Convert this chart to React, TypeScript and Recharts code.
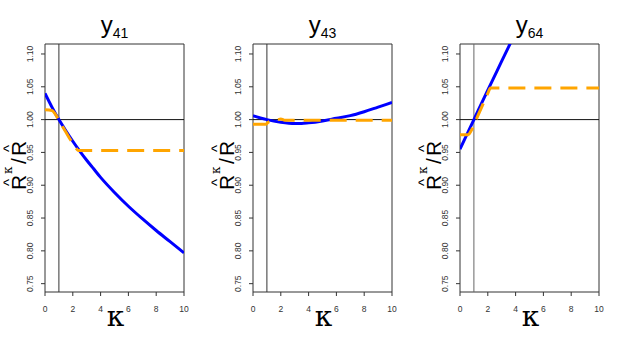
import React from 'react';
import { LineChart, Line, XAxis, YAxis, ReferenceLine, ReferenceArea } from 'recharts';

const KAPPA_TICKS = [0, 2, 4, 6, 8, 10];
const RATIO_TICKS = [0.75, 0.8, 0.85, 0.9, 0.95, 1.0, 1.05, 1.1];
const Y_DOMAIN: [number, number] = [0.7373, 1.1152];
const X_DOMAIN: [number, number] = [0, 10];
const TITLES = ['41', '43', '64'];

// panel y41
const P1_BLUE_K = [0, 0.5, 1, 1.5, 2, 2.5, 3, 3.5, 4, 5, 6, 7, 8, 9, 10];
const P1_BLUE_V = [1.04, 1.019, 1.0, 0.983, 0.967, 0.952, 0.938, 0.925, 0.912, 0.889, 0.868, 0.849, 0.831, 0.814, 0.797];
const P1_ORANGE_K = [0, 0.5, 0.75, 1, 1.25, 1.5, 1.75, 2, 2.25, 2.4, 10];
const P1_ORANGE_V = [1.015, 1.014, 1.008, 0.999, 0.99, 0.981, 0.972, 0.964, 0.956, 0.953, 0.953];

// panel y43
const P2_BLUE_K = [0, 1, 2, 3, 3.5, 4, 5, 6, 7, 8, 9, 10];
const P2_BLUE_V = [1.006, 1.0, 0.996, 0.994, 0.994, 0.995, 0.998, 1.002, 1.006, 1.012, 1.019, 1.026];
const P2_ORANGE_K = [0, 0.9, 1.1, 1.5, 1.8, 2.0, 2.3, 10];
const P2_ORANGE_V = [0.993, 0.993, 0.996, 0.999, 1.0, 1.001, 0.999, 0.999];

// panel y64
const P3_BLUE_K = [0, 1, 2, 3, 4];
const P3_BLUE_V = [0.955, 1.0, 1.045, 1.089, 1.133];
const P3_ORANGE_K = [0, 0.6, 0.8, 1.2, 1.6, 2.0, 2.2, 10];
const P3_ORANGE_V = [0.977, 0.977, 0.983, 1.002, 1.021, 1.04, 1.048, 1.048];

const PANELS = [
  { blueK: P1_BLUE_K, blueV: P1_BLUE_V, orangeK: P1_ORANGE_K, orangeV: P1_ORANGE_V, vlineColor: '#333' },
  { blueK: P2_BLUE_K, blueV: P2_BLUE_V, orangeK: P2_ORANGE_K, orangeV: P2_ORANGE_V, vlineColor: '#333' },
  { blueK: P3_BLUE_K, blueV: P3_BLUE_V, orangeK: P3_ORANGE_K, orangeV: P3_ORANGE_V, vlineColor: '#666' },
];

const OFFSETS = [0, 208, 415];
const CW = 200;
const CH = 349;
const PLOT_LEFT = 45;
const PLOT_RIGHT = 184;
const PLOT_TOP = 44;
const PLOT_BOTTOM = 292;
const FONT = '"Liberation Sans", Arial, Helvetica, sans-serif';

const zip = (k: number[], v: number[]) => k.map((kk, i) => ({ k: kk, v: v[i] }));

const YTick = (props: any) => {
  const { y, payload } = props;
  const bx = PLOT_LEFT - 11.5;
  return (
    <text
      x={bx}
      y={y}
      transform={`rotate(-90, ${bx}, ${y})`}
      textAnchor="middle"
      fontSize={8.5}
      fill="#333"
      fontFamily={FONT}
    >
      {Number(payload.value).toFixed(2)}
    </text>
  );
};

const XTick = (props: any) => {
  const { x, payload } = props;
  return (
    <text x={x} y={PLOT_BOTTOM + 20} textAnchor="middle" fontSize={8.5} fill="#333" fontFamily={FONT}>
      {payload.value}
    </text>
  );
};

const Panel = ({ idx }: { idx: number }) => {
  const p = PANELS[idx];
  const blue = zip(p.blueK, p.blueV);
  const orange = zip(p.orangeK, p.orangeV);
  return (
    <div style={{ position: 'absolute', left: OFFSETS[idx], top: 0, width: CW, height: CH }}>
      <LineChart
        width={CW}
        height={CH}
        margin={{ top: PLOT_TOP, right: CW - PLOT_RIGHT, bottom: CH - PLOT_BOTTOM - 30, left: PLOT_LEFT - 30 }}
      >
        <XAxis
          type="number"
          dataKey="k"
          domain={X_DOMAIN}
          ticks={KAPPA_TICKS}
          allowDataOverflow
          axisLine={false}
          tickSize={4}
          tickLine={{ stroke: '#333' }}
          tick={<XTick />}
          height={30}
          interval={0}
        />
        <YAxis
          type="number"
          dataKey="v"
          domain={Y_DOMAIN}
          ticks={RATIO_TICKS}
          allowDataOverflow
          axisLine={false}
          tickSize={4}
          tickLine={{ stroke: '#333' }}
          tick={<YTick />}
          width={30}
          interval={0}
        />
        <ReferenceLine y={1} stroke="#111" strokeWidth={1} ifOverflow="hidden" />
        <ReferenceLine x={1} stroke={p.vlineColor} strokeWidth={1} ifOverflow="hidden" />
        <Line
          data={blue}
          dataKey="v"
          type="monotone"
          stroke="#0000ff"
          strokeWidth={3}
          dot={false}
          activeDot={false}
          isAnimationActive={false}
        />
        <Line
          data={orange}
          dataKey="v"
          type="monotone"
          stroke="#ffa500"
          strokeWidth={3}
          strokeDasharray="17 9"
          dot={false}
          activeDot={false}
          isAnimationActive={false}
        />
        <ReferenceArea
          x1={X_DOMAIN[0]}
          x2={X_DOMAIN[1]}
          y1={Y_DOMAIN[0]}
          y2={Y_DOMAIN[1]}
          fill="none"
          fillOpacity={0}
          stroke="#333"
          strokeWidth={1}
          ifOverflow="visible"
        />
      </LineChart>
    </div>
  );
};

const Labels = ({ idx }: { idx: number }) => {
  const off = OFFSETS[idx];
  const cx = off + (PLOT_LEFT + PLOT_RIGHT) / 2;
  const ly = (PLOT_TOP + PLOT_BOTTOM) / 2 - 4;
  const lx = off + 25.5;
  return (
    <g fontFamily={FONT} fill="#000">
      <text x={cx} y={33} textAnchor="middle" fontSize={24}>
        y<tspan fontSize={14} dy={5}>{TITLES[idx]}</tspan>
      </text>
      <text x={cx + 1} y={326} textAnchor="middle" fontSize={28} fontFamily='"DejaVu Serif", serif'>κ</text>
      <g transform={`translate(${lx}, ${ly}) rotate(-90)`}>
        <text x={-26} y={0} fontSize={21}>R</text>
        <text x={-18.4} y={-12} fontSize={15} textAnchor="middle">^</text>
        <text x={-10} y={-14} fontSize={12} fontFamily='"DejaVu Serif", serif'>κ</text>
        <text x={0} y={0} fontSize={21}>/</text>
        <text x={8} y={0} fontSize={21}>R</text>
        <text x={15.6} y={-12} fontSize={15} textAnchor="middle">^</text>
      </g>
    </g>
  );
};

export default function App() {
  return (
    <div style={{ position: 'absolute', left: 0, top: 0, width: 623, height: 349, background: '#fff' }}>
      {[0, 1, 2].map((i) => (
        <Panel key={i} idx={i} />
      ))}
      <svg width={623} height={349} style={{ position: 'absolute', left: 0, top: 0, pointerEvents: 'none' }}>
        {[0, 1, 2].map((i) => (
          <Labels key={i} idx={i} />
        ))}
      </svg>
    </div>
  );
}
